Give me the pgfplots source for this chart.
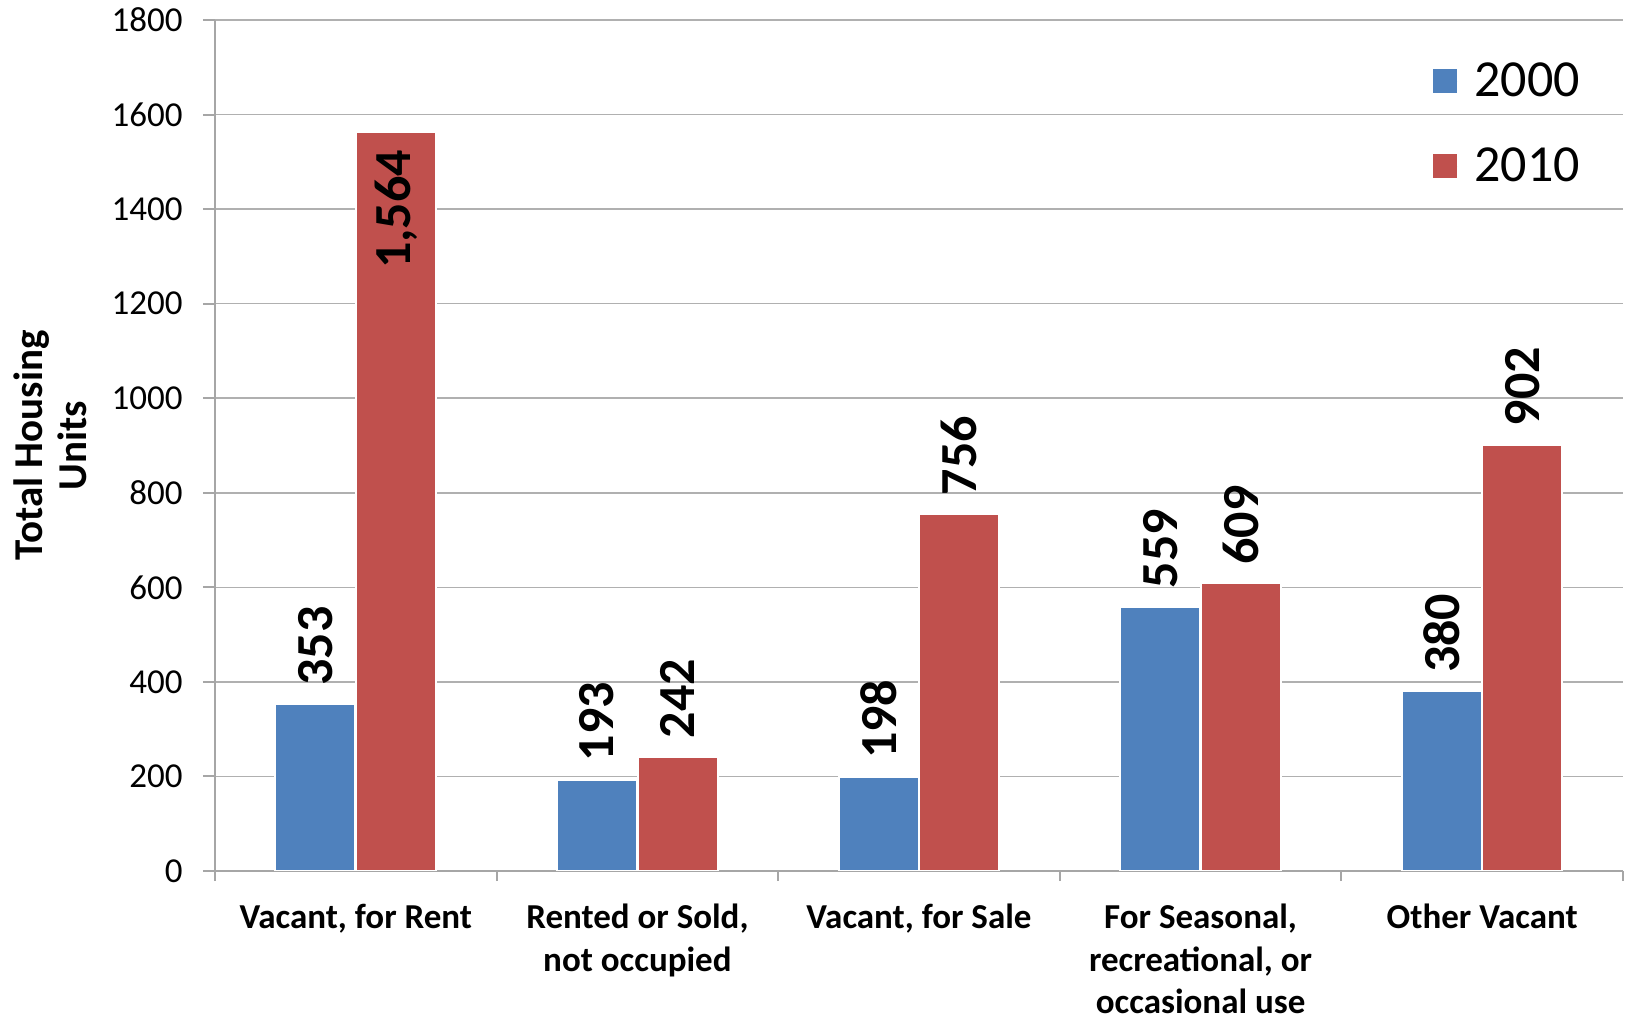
\documentclass[border=0pt]{standalone}
\usepackage{fontspec}
\setmainfont{Carlito}
\usepackage{pgfplots}
\pgfplotsset{compat=1.18}
\definecolor{blue2000}{HTML}{4F81BD}
\definecolor{red2010}{HTML}{C0504D}
\definecolor{axisgray}{HTML}{A6A6A6}
\definecolor{gridgray}{HTML}{B0B0B0}
\begin{document}
\begin{tikzpicture}
\useasboundingbox (-107.5pt,-73pt) rectangle (707pt,435.5pt);
\begin{axis}[
  scale only axis, width=704pt, height=425.5pt,
  ybar, bar width=40pt,
  xmin=-0.5, xmax=4.5, ymin=0, ymax=1800,
  axis x line*=bottom, axis y line*=left,
  axis line style={axisgray, line width=1pt},
  tick align=outside,
  xtick={0,1,2,3,4},
  xticklabels={{Vacant, for Rent}, {Rented or Sold,\\not occupied}, {Vacant, for Sale}, {For Seasonal,\\recreational, or\\occasional use}, {Other Vacant}},
  minor xtick={-0.5,0.5,1.5,2.5,3.5,4.5},
  major x tick style={draw=none},
  minor x tick style={axisgray, line width=1pt},
  minor tick length=5pt,
  major tick length=6pt,
  y tick style={axisgray, line width=1pt},
  ytick={0,200,...,1800},
  ymajorgrids, grid style={gridgray, line width=0.8pt},
  /pgf/number format/assume math mode=true,
  yticklabel style={/pgf/number format/1000 sep={}, font=\fontsize{17.5}{20}\selectfont, inner sep=10pt},
  xticklabel style={align=center, font=\bfseries\fontsize{17.5}{21.3}\selectfont, yshift=-7pt},
  ylabel={Total Housing\\Units},
  ylabel style={at={(axis description cs:-0.117,0.5)}, anchor=center, align=center, font=\bfseries\fontsize{20.5}{22}\selectfont},
  legend style={draw=none, fill=none, at={(0.863,0.95)}, anchor=north west, font=\fontsize{26}{31}\selectfont, row sep=24pt, inner sep=0pt, nodes={inner sep=0pt}},
  legend image code/.code={\fill[#1] (0pt,-6.5pt) rectangle (13pt,6.5pt); \path (13pt,0pt) -- (21pt,0pt);},
  lbl/.style={forget plot, draw=none, fill=none, nodes near coords,
    every node near coord/.append style={rotate=90, inner sep=9pt, text=black, font=\bfseries\fontsize{26}{30}\selectfont, /pgf/number format/1000 sep={,}, /pgf/number format/assume math mode=true}},
]
\addplot[fill=blue2000, draw=white, line width=1pt, bar shift=-20.15pt] coordinates {(0,353) (1,193) (2,198) (3,559) (4,380)};
\addplot[fill=red2010, draw=white, line width=1pt, bar shift=20.15pt] coordinates {(0,1564) (1,242) (2,756) (3,609) (4,902)};
\addplot[lbl, bar shift=-20.15pt, every node near coord/.append style={anchor=west}] coordinates {(0,353) (1,193) (2,198) (3,559) (4,380)};
\addplot[lbl, bar shift=20.15pt, every node near coord/.append style={anchor=west}] coordinates {(1,242) (2,756) (3,609) (4,902)};
\addplot[lbl, bar shift=20.15pt, every node near coord/.append style={anchor=east}] coordinates {(0,1564)};
\legend{2000,2010}
\end{axis}
\end{tikzpicture}
\end{document}
